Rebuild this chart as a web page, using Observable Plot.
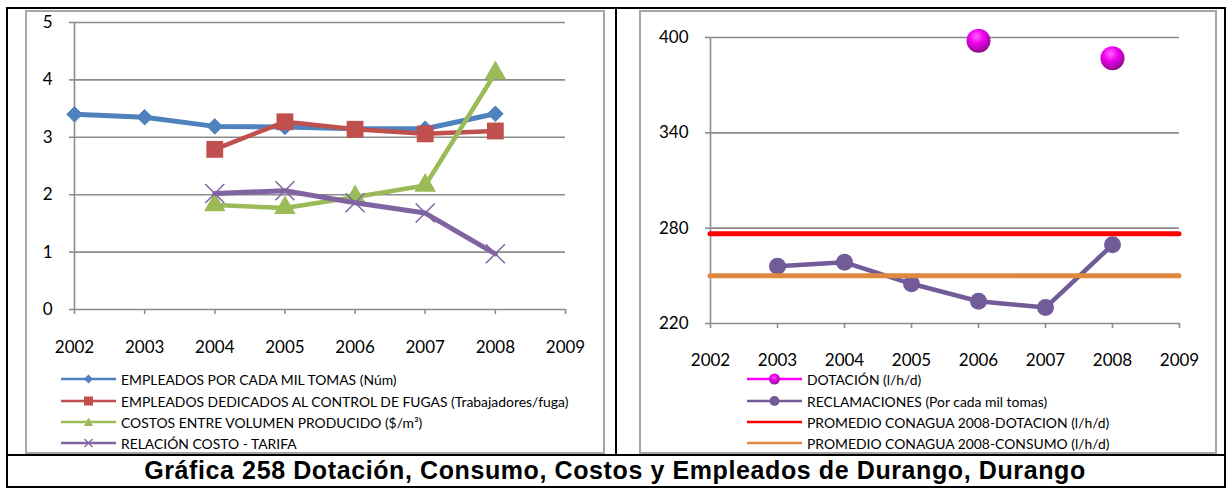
<!DOCTYPE html>
<html><head><meta charset="utf-8">
<script src="https://cdn.jsdelivr.net/npm/d3@7"></script>
<script src="https://cdn.jsdelivr.net/npm/@observablehq/plot@0.6"></script>
<style>
body{margin:0;background:#fff;}
#page{position:relative;width:1230px;height:488px;overflow:hidden;font-family:Lato,"Open Sans",sans-serif;}
.blk{position:absolute;background:#000;}
.frame{position:absolute;border:2px solid #a6a6a6;box-sizing:border-box;}
.chart{position:absolute;}
.leg{position:absolute;height:20px;display:flex;align-items:center;font-size:13.9px;white-space:nowrap;color:#000;}
.leg svg{margin-right:5px;flex:none;}
#title{position:absolute;left:0;width:1230px;top:455px;height:30px;line-height:30px;text-align:center;font-family:"Liberation Sans",Arial,sans-serif;font-weight:bold;font-size:25px;letter-spacing:0.6px;}
</style>
</head><body>
<div id="page">
  <div class="frame" style="left:25px;top:10px;width:580px;height:444px"></div>
  <div class="frame" style="left:639px;top:10px;width:578px;height:444px"></div>
  <div class="blk" style="left:6px;top:7px;width:1220px;height:2px"></div>
  <div class="blk" style="left:6px;top:7px;width:2px;height:481px"></div>
  <div class="blk" style="left:1224px;top:7px;width:2px;height:481px"></div>
  <div class="blk" style="left:615px;top:7px;width:2px;height:449px"></div>
  <div class="blk" style="left:6px;top:454px;width:1220px;height:2px"></div>
  <div class="blk" style="left:6px;top:486px;width:1220px;height:2px"></div>
  <div id="left" class="chart" style="left:25px;top:10px"></div>
  <div id="right" class="chart" style="left:639px;top:10px"></div>
  <div id="legends"></div>
  <div id="title">Gráfica 258 Dotación, Consumo, Costos y Empleados de Durango, Durango</div>
</div>
<script>
// ---------- DATA ----------
const years = [2002, 2003, 2004, 2005, 2006, 2007, 2008];
const xTicks = [2002, 2003, 2004, 2005, 2006, 2007, 2008, 2009];

// Left chart
const empleadosMilTomas   = [3.40, 3.35, 3.19, 3.18, 3.15, 3.15, 3.41];
const empleadosFugas      = [null, null, 2.79, 3.27, 3.14, 3.06, 3.11];
const costosVolumen       = [null, null, 1.82, 1.77, 1.96, 2.16, 4.12];
const relacionCostoTarifa = [null, null, 2.02, 2.07, 1.86, 1.68, 0.97];
const leftYTicks = [0, 1, 2, 3, 4, 5];
const leftNames = [
  "EMPLEADOS POR CADA MIL TOMAS (Núm)",
  "EMPLEADOS DEDICADOS AL CONTROL DE FUGAS (Trabajadores/fuga)",
  "COSTOS ENTRE VOLUMEN PRODUCIDO ($/m³)",
  "RELACIÓN COSTO - TARIFA"
];

// Right chart
const dotacion      = [null, null, null, null, 398, null, 387];
const reclamaciones = [null, 256, 258.5, 245, 234, 230, 269.5];
const promedioDotacion = 276.5;
const promedioConsumo  = 250;
const rightYTicks = [220, 280, 340, 400];
const rightNames = [
  "DOTACIÓN (l/h/d)",
  "RECLAMACIONES (Por cada mil tomas)",
  "PROMEDIO CONAGUA 2008-DOTACION (l/h/d)",
  "PROMEDIO CONAGUA 2008-CONSUMO (l/h/d)"
];

const C = {blue:"#4F81BD", red:"#C0504D", green:"#9BBB59", purple:"#8064A2",
           rec:"#715B99", mag:"#FF00FF", pr:"#FF0000", po:"#E0883F", grid:"#8c8c8c"};

const series = arr => years.map((y, i) => ({year: y, value: arr[i]})).filter(d => d.value != null);

// ---------- LEFT CHART ----------
const lineOpts = (col, w) => ({x: "year", y: "value", stroke: col, strokeWidth: w, strokeLinejoin: "round"});
const left = Plot.plot({
  width: 580, height: 360, marginLeft: 49, marginRight: 40, marginTop: 12, marginBottom: 61,
  x: {domain: [2002, 2009], label: null}, y: {domain: [0, 5], label: null},
  style: {fontFamily: "Lato, sans-serif", fontSize: "17px", background: "transparent", overflow: "visible"},
  marks: [
    Plot.ruleY(leftYTicks, {x1: 2002, x2: 2009, stroke: C.grid, strokeWidth: 1.6}),
    Plot.ruleX([2002], {y1: 0, y2: 5, stroke: C.grid, strokeWidth: 1.6}),
    Plot.axisY({ticks: leftYTicks, label: null, tickSize: 5, tickPadding: 17, stroke: C.grid, strokeWidth: 1.6, fill: "#000", tickFormat: d => String(d)}),
    Plot.axisX({ticks: xTicks, label: null, tickSize: 5, tickPadding: 26, stroke: C.grid, strokeWidth: 1.6, fill: "#000", tickFormat: d => String(d)}),
    Plot.line(series(empleadosMilTomas), lineOpts(C.blue, 5)),
    Plot.dot(series(empleadosMilTomas), {x: "year", y: "value", symbol: "diamond2", r: 7, fill: C.blue, stroke: C.blue, strokeWidth: 1}),
    Plot.line(series(empleadosFugas), lineOpts(C.red, 4.5)),
    Plot.dot(series(empleadosFugas), {x: "year", y: "value", symbol: "square", r: 9.5, fill: C.red}),
    Plot.line(series(costosVolumen), lineOpts(C.green, 4.5)),
    Plot.dot(series(costosVolumen), {x: "year", y: "value", symbol: "triangle", r: 8, fill: C.green}),
    Plot.line(series(relacionCostoTarifa), lineOpts(C.purple, 5)),
    Plot.dot(series(relacionCostoTarifa), {x: "year", y: "value", symbol: "times", r: 8.7, stroke: C.purple, strokeWidth: 1.5})
  ]
});
document.getElementById("left").appendChild(left);

// ---------- RIGHT CHART ----------
const right = Plot.plot({
  width: 578, height: 360, marginLeft: 71, marginRight: 38, marginTop: 27, marginBottom: 47,
  x: {domain: [2002, 2009], label: null}, y: {domain: [220, 400], label: null},
  style: {fontFamily: "Lato, sans-serif", fontSize: "17px", background: "transparent", overflow: "visible"},
  marks: [
    Plot.ruleY(rightYTicks, {x1: 2002, x2: 2009, stroke: C.grid, strokeWidth: 1.6}),
    Plot.ruleX([2002], {y1: 220, y2: 400, stroke: C.grid, strokeWidth: 1.6}),
    Plot.axisY({ticks: rightYTicks, label: null, tickSize: 5, tickPadding: 17, stroke: C.grid, strokeWidth: 1.6, fill: "#000", tickFormat: d => String(d)}),
    Plot.axisX({ticks: xTicks, label: null, tickSize: 5, tickPadding: 25, stroke: C.grid, strokeWidth: 1.6, fill: "#000", tickFormat: d => String(d)}),
    Plot.ruleY([promedioDotacion], {x1: 2002, x2: 2009, stroke: C.pr, strokeWidth: 5, strokeLinecap: "round"}),
    Plot.line(series(reclamaciones), lineOpts(C.rec, 4.5)),
    Plot.dot(series(reclamaciones), {x: "year", y: "value", r: 8.5, fill: C.rec}),
    Plot.ruleY([promedioConsumo], {x1: 2002, x2: 2009, stroke: C.po, strokeWidth: 5, strokeLinecap: "round"}),
    Plot.dot(series(dotacion), {x: "year", y: "value", r: 12, fill: "url(#sphere)"})
  ]
});
const defs = d3.select(right).insert("defs", ":first-child");
const g = defs.append("radialGradient").attr("id", "sphere").attr("cx", "0.42").attr("cy", "0.32").attr("r", "0.75");
g.append("stop").attr("offset", "0%").attr("stop-color", "#ff66ff");
g.append("stop").attr("offset", "40%").attr("stop-color", "#f000f0");
g.append("stop").attr("offset", "100%").attr("stop-color", "#7a107a");
document.getElementById("right").appendChild(right);

// ---------- LEGENDS ----------
const sw = (col, marker) => `<svg width="55" height="14" viewBox="0 0 55 14"><defs><radialGradient id="sphL" cx="0.45" cy="0.35" r="0.7"><stop offset="0%" stop-color="#ff55ff"/><stop offset="45%" stop-color="#e000e0"/><stop offset="100%" stop-color="#8a1a8a"/></radialGradient></defs><line x1="0" y1="7" x2="55" y2="7" stroke="${col}" stroke-width="2.5"/>${marker}</svg>`;
const mk = {
  diamond: c => `<path d="M27.5 2.5 L32 7 L27.5 11.5 L23 7Z" fill="${c}"/>`,
  square: c => `<rect x="23" y="2.5" width="9" height="9" fill="${c}"/>`,
  triangle: c => `<path d="M27.5 2.5 L32 11 L23 11Z" fill="${c}"/>`,
  times: c => `<path d="M23.5 3 L31.5 11 M31.5 3 L23.5 11" stroke="${c}" stroke-width="1.3"/>`,
  sphere: () => `<circle cx="27.5" cy="7" r="5.5" fill="url(#sphL)"/>`,
  circle: c => `<circle cx="27.5" cy="7" r="5" fill="${c}"/>`,
  none: () => ``
};
const leftLeg = [[C.blue, mk.diamond(C.blue)], [C.red, mk.square(C.red)], [C.green, mk.triangle(C.green)], [C.purple, mk.times(C.purple)]];
const rightLeg = [[C.mag, mk.sphere()], [C.rec, mk.circle(C.rec)], [C.pr, mk.none()], [C.po, mk.none()]];
const legTop = [369, 391, 412, 433];
let html = "";
leftNames.forEach((n, i) => { html += `<div class="leg" style="left:61px;top:${legTop[i]}px">${sw(...leftLeg[i])}<span>${n}</span></div>`; });
rightNames.forEach((n, i) => { html += `<div class="leg" style="left:747px;top:${legTop[i]}px">${sw(...rightLeg[i])}<span>${n}</span></div>`; });
document.getElementById("legends").innerHTML = html;
</script>
</body></html>
